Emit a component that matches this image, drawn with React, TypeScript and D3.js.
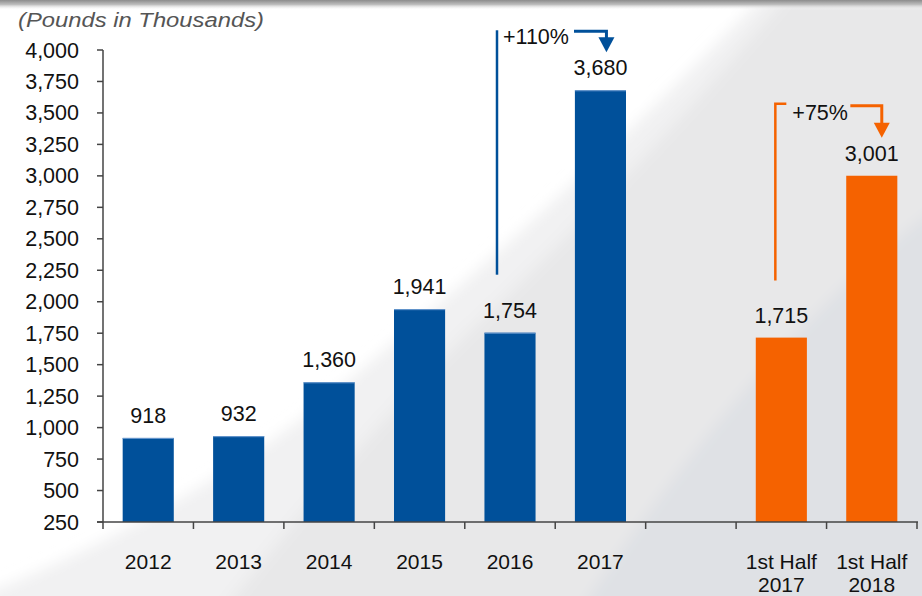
import React from "react";
import * as d3 from "d3";

const categories = ["2012", "2013", "2014", "2015", "2016", "2017", "gap", "H1 2017", "H1 2018"];
const xLabelLines = [["2012"], ["2013"], ["2014"], ["2015"], ["2016"], ["2017"], [], ["1st Half", "2017"], ["1st Half", "2018"]];
const values: (number | null)[] = [918, 932, 1360, 1941, 1754, 3680, null, 1715, 3001];
const valueLabels = ["918", "932", "1,360", "1,941", "1,754", "3,680", "", "1,715", "3,001"];
const seriesKind = ["annual", "annual", "annual", "annual", "annual", "annual", "none", "half", "half"];
const yTicks = [250, 500, 750, 1000, 1250, 1500, 1750, 2000, 2250, 2500, 2750, 3000, 3250, 3500, 3750, 4000];
const growthFrom = ["2016", "H1 2017"];
const growthTo = ["2017", "H1 2018"];
const growthLabels = ["+110%", "+75%"];
const growthKind = ["annual", "half"];

const title = "(Pounds in Thousands)";

const COLORS: Record<string, string> = { annual: "#00509A", half: "#F56200" };
const FONT = "Arial, 'Liberation Sans', Helvetica, sans-serif";
const FS = 21.5;

// annotation styling offsets (pixels)
const annStyle = [
  { vdx: -13, topOff: 60, botOff: 58, hOff: 59, tipOff: 38, textOff: 46, textW: 68, arrowDx: 6, bracket: 0 },
  { vdx: -6, topOff: 72, botOff: 57, hOff: 70, tipOff: 38, textOff: 56, textW: 55, arrowDx: 10, bracket: 11 },
];

export default function App() {
  const W = 922, H = 596;
  const x0 = 103, x1 = 917, yTop = 50, yBot = 522;
  const x = d3.scaleBand<string>().domain(categories).range([x0, x1]).paddingInner(0.435).paddingOuter(0.2175);
  const y = d3.scaleLinear().domain([250, 4000]).range([yBot, yTop]);
  const step = x.step();
  const cx = (c: string) => (x(c) as number) + x.bandwidth() / 2;
  const valOf = (c: string) => values[categories.indexOf(c)] as number;

  return (
    <div style={{ position: "fixed", left: 0, top: 0, width: W, height: H }}>
      <svg width={W} height={H} style={{ display: "block" }}>
        <defs>
          <linearGradient id="topShade" x1="0" y1="0" x2="0" y2="1">
            <stop offset="0" stopColor="#8c8c8c" />
            <stop offset="0.45" stopColor="#bdbdbd" />
            <stop offset="1" stopColor="#ffffff" stopOpacity="0" />
          </linearGradient>
          <filter id="blurBg" x="-0.2" y="-0.2" width="1.4" height="1.4">
            <feGaussianBlur stdDeviation="7" />
          </filter>
        </defs>
        <rect x={0} y={0} width={W} height={H} fill="#ffffff" />
        <g filter="url(#blurBg)">
          <path d="M 778 -20 Q 560 210 300 420 Q 150 530 -30 600 L -30 640 L 960 640 L 960 -20 Z" fill="#f1f1f2" />
          <path d="M 800 -20 Q 640 170 470 330 Q 330 470 200 640 L 960 640 L 960 -20 Z" fill="#e8e8e9" />
          <path d="M 960 190 Q 760 330 560 640 L 960 640 Z" fill="#dfe1e5" />
        </g>
        <rect x={0} y={0} width={W} height={10} fill="url(#topShade)" />

        <text x={18} y={27} fontFamily={FONT} fontStyle="italic" fontSize={20.5} fill="#555" textLength={246} lengthAdjust="spacingAndGlyphs">
          {title}
        </text>

        {/* y axis */}
        <line x1={x0} x2={x0} y1={yTop} y2={yBot} stroke="#444" strokeWidth={1.5} />
        {yTicks.map((t) => (
          <g key={t}>
            <line x1={x0 - 6} x2={x0} y1={y(t)} y2={y(t)} stroke="#444" strokeWidth={1.5} />
            <text x={79} y={y(t) + 7.5} textAnchor="end" fontFamily={FONT} fontSize={FS} fill="#111">
              {d3.format(",")(t)}
            </text>
          </g>
        ))}

        {/* bars */}
        {categories.map((c, i) =>
          values[i] == null ? null : (
            <g key={c}>
              <rect x={x(c)} y={y(values[i] as number)} width={x.bandwidth()} height={yBot - y(values[i] as number)} fill={COLORS[seriesKind[i]]} />
              {seriesKind[i] === "annual" && (
                <line x1={x(c)} x2={(x(c) as number) + x.bandwidth()} y1={y(values[i] as number) + 0.5} y2={y(values[i] as number) + 0.5} stroke="#6d9bd0" strokeWidth={1} />
              )}
              <text x={cx(c)} y={y(values[i] as number) - 15} textAnchor="middle" fontFamily={FONT} fontSize={FS} fill="#111">
                {valueLabels[i]}
              </text>
            </g>
          )
        )}

        {/* x axis */}
        <line x1={x0 - 6} x2={x1 + 1} y1={yBot} y2={yBot} stroke="#444" strokeWidth={1.5} />
        {d3.range(categories.length + 1).map((k) => (
          <line key={k} x1={x0 + k * step} x2={x0 + k * step} y1={yBot} y2={yBot + 7} stroke="#444" strokeWidth={1.5} />
        ))}
        {categories.map((c, i) => (
          <text key={c} x={cx(c)} y={569} textAnchor="middle" fontFamily={FONT} fontSize={21} fill="#111">
            {xLabelLines[i].map((ln, j) => (
              <tspan key={j} x={cx(c)} dy={j === 0 ? 0 : 22.5}>
                {ln}
              </tspan>
            ))}
          </text>
        ))}

        {/* growth annotations */}
        {growthFrom.map((f, i) => {
          const s = annStyle[i];
          const col = COLORS[growthKind[i]];
          const vx = cx(f) + s.vdx;
          const topV = y(valOf(growthTo[i]));
          const top = topV - s.topOff;
          const bot = y(valOf(f)) - s.botOff;
          const hy = topV - s.hOff;
          const tip = topV - s.tipOff;
          const ax = cx(growthTo[i]) + s.arrowDx;
          const tx = vx + 6 + s.bracket;
          const hx0 = tx + s.textW + 3;
          return (
            <g key={f}>
              <path d={s.bracket ? `M${vx},${bot} L${vx},${top} L${vx + s.bracket},${top}` : `M${vx},${bot} L${vx},${top}`} fill="none" stroke={col} strokeWidth={2.5} />
              <text x={tx} y={topV - s.textOff} fontFamily={FONT} fontSize={FS} fill="#111">
                {growthLabels[i]}
              </text>
              <path d={`M${hx0},${hy} L${ax},${hy} L${ax},${tip - 12}`} fill="none" stroke={col} strokeWidth={3} />
              <path d={`M${ax - 8},${tip - 15} L${ax + 8},${tip - 15} L${ax},${tip} Z`} fill={col} />
            </g>
          );
        })}
      </svg>
    </div>
  );
}
